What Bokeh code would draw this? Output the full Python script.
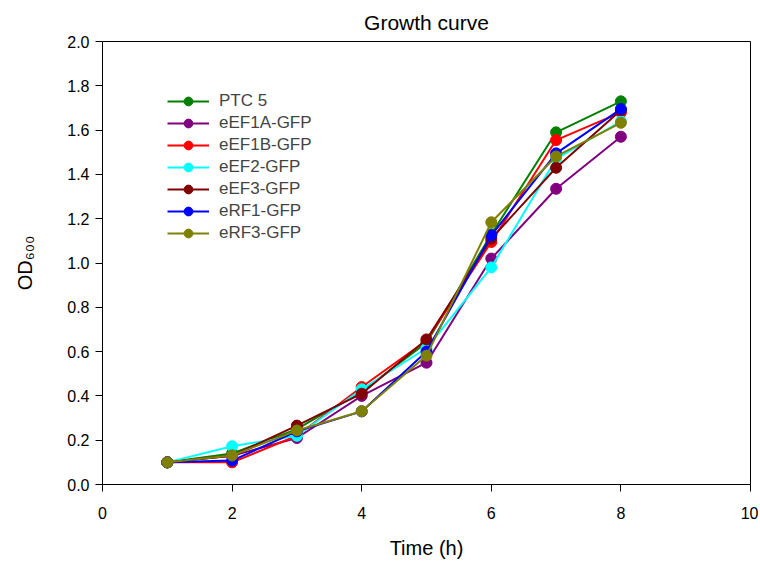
from bokeh.plotting import figure
from bokeh.models import Legend, LegendItem, Range1d, FixedTicker
from bokeh.embed import file_html
from bokeh.resources import INLINE

time_h = [1, 2, 3, 4, 5, 6, 7, 8]
ptc5 = [0.10, 0.14, 0.25, 0.42, 0.64, 1.13, 1.59, 1.73]
eef1a = [0.10, 0.13, 0.21, 0.40, 0.55, 1.02, 1.335, 1.57]
eef1b = [0.10, 0.10, 0.22, 0.44, 0.65, 1.095, 1.555, 1.68]
eef2 = [0.10, 0.173, 0.22, 0.43, 0.615, 0.98, 1.47, 1.64]
eef3 = [0.10, 0.13, 0.266, 0.41, 0.655, 1.11, 1.43, 1.69]
erf1 = [0.10, 0.108, 0.24, 0.33, 0.60, 1.125, 1.495, 1.695]
erf3 = [0.10, 0.131, 0.244, 0.331, 0.582, 1.184, 1.481, 1.633]

names = ["PTC 5", "eEF1A-GFP", "eEF1B-GFP", "eEF2-GFP", "eEF3-GFP", "eRF1-GFP", "eRF3-GFP"]
series = [ptc5, eef1a, eef1b, eef2, eef3, erf1, erf3]
colors = ["#008000", "#800080", "#ff0000", "#00ffff", "#800000", "#0000ff", "#808000"]

x_ticks = [0, 2, 4, 6, 8, 10]
y_ticks = [0.0, 0.2, 0.4, 0.6, 0.8, 1.0, 1.2, 1.4, 1.6, 1.8, 2.0]

FONT = "Liberation Sans"

p = figure(width=758, height=563, output_backend="svg", toolbar_location=None,
           x_range=Range1d(0, 10), y_range=Range1d(0, 2.0),
           min_border_left=102, min_border_right=8, min_border_top=41, min_border_bottom=79,
           title="Growth curve")

p.title.text_font = FONT
p.title.text_font_size = "21px"
p.title.text_font_style = "normal"
p.title.align = "center"
p.title.text_color = "black"
p.title.standoff = 16

p.grid.visible = False
p.outline_line_color = "black"
p.outline_line_width = 1

for ax in (p.xaxis[0], p.yaxis[0]):
    ax.major_label_text_font = FONT
    ax.major_label_text_font_size = "16px"
    ax.major_label_text_color = "black"
    ax.axis_label_text_font = FONT
    ax.axis_label_text_font_size = "20px"
    ax.axis_label_text_font_style = "normal"
    ax.axis_label_text_color = "black"
    ax.minor_tick_line_color = None
    ax.major_tick_in = 0
    ax.major_tick_out = 7
    ax.major_tick_line_color = "black"
    ax.axis_line_color = "black"

p.xaxis.ticker = FixedTicker(ticks=x_ticks)
p.yaxis.ticker = FixedTicker(ticks=y_ticks)
p.xaxis.major_label_overrides = {t: str(t) for t in x_ticks}
p.yaxis.major_label_overrides = {t: f"{t:.1f}" for t in y_ticks}
p.xaxis.axis_label = "Time (h)"
p.yaxis.axis_label = "OD₆₀₀"
p.xaxis.major_label_standoff = 15
p.yaxis.major_label_standoff = 6
p.xaxis.axis_label_standoff = 15
p.yaxis.axis_label_standoff = 28

items = []
for name, ys, c in zip(names, series, colors):
    r1 = p.line(time_h, ys, line_color=c, line_width=2)
    r2 = p.scatter(time_h, ys, size=11, fill_color=c, line_color=c)
    items.append(LegendItem(label=name, renderers=[r1, r2]))

legend = Legend(items=items, location=(65, 240), padding=0, margin=0, spacing=0,
                glyph_width=42, glyph_height=22, label_height=22, label_standoff=10,
                label_text_font=FONT, label_text_font_size="17px",
                border_line_color=None, background_fill_alpha=0)
p.add_layout(legend, "center")

open("out.html", "w").write(file_html(p, INLINE))
